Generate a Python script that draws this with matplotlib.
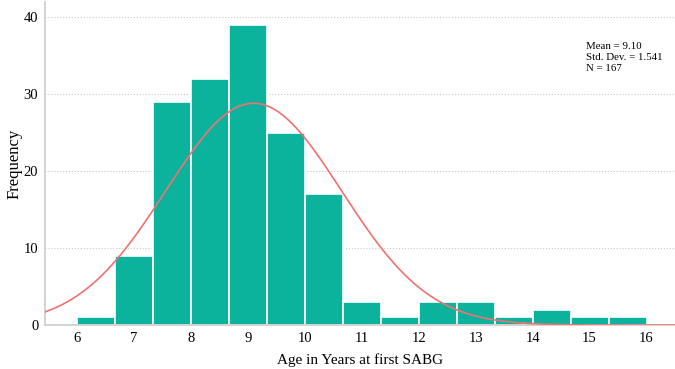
import numpy as np
import matplotlib.pyplot as plt

plt.rcParams['font.family'] = ['Liberation Serif', 'DejaVu Serif']

# histogram bins of width 2/3 year from 6 to 16
bin_start = 6.0
bin_width = 2.0 / 3.0
counts = [1, 9, 29, 32, 39, 25, 17, 3, 1, 3, 3, 1, 2, 1, 1]
mean_age = 9.10
std_age = 1.541
n_total = 167
x_ticks = [6, 7, 8, 9, 10, 11, 12, 13, 14, 15, 16]
y_ticks = [0, 10, 20, 30, 40]

fig = plt.figure(figsize=(6.75, 3.69), dpi=100)
ax = fig.add_axes([0.067, 0.119, 0.933, 0.876])

lefts = bin_start + bin_width * np.arange(len(counts))
ax.bar(lefts, counts, width=bin_width, align='edge',
       color='#0bb39c', edgecolor='white', linewidth=1.2, zorder=2)

xs = np.linspace(5.4, 16.6, 400)
pdf = np.exp(-0.5 * ((xs - mean_age) / std_age) ** 2) / (std_age * np.sqrt(2 * np.pi))
ax.plot(xs, pdf * n_total * bin_width, color='#ee7272', linewidth=1.2, zorder=3)

ax.set_xlim(5.44, 16.5)
ax.set_ylim(0, 42)
ax.set_xticks(x_ticks)
ax.set_yticks(y_ticks)
ax.tick_params(length=0, labelsize=10.5, pad=5)
ax.yaxis.grid(True, linestyle=':', color='#c8c8c8', linewidth=0.8, zorder=0)
ax.set_axisbelow(True)
for side in ['top', 'right']:
    ax.spines[side].set_visible(False)
for side in ['left', 'bottom']:
    ax.spines[side].set_color('#cccccc')
    ax.spines[side].set_linewidth(1.2)

ax.set_xlabel('Age in Years at first SABG', fontsize=11, labelpad=6)
ax.set_ylabel('Frequency', fontsize=12, labelpad=1)

ax.text(0.859, 0.875, f'Mean = {mean_age:.2f}\nStd. Dev. = {std_age:.3f}\nN = {n_total}',
        transform=ax.transAxes, fontsize=7.8, va='top', ha='left', linespacing=1.3)

fig.savefig('out.png', dpi=100)
